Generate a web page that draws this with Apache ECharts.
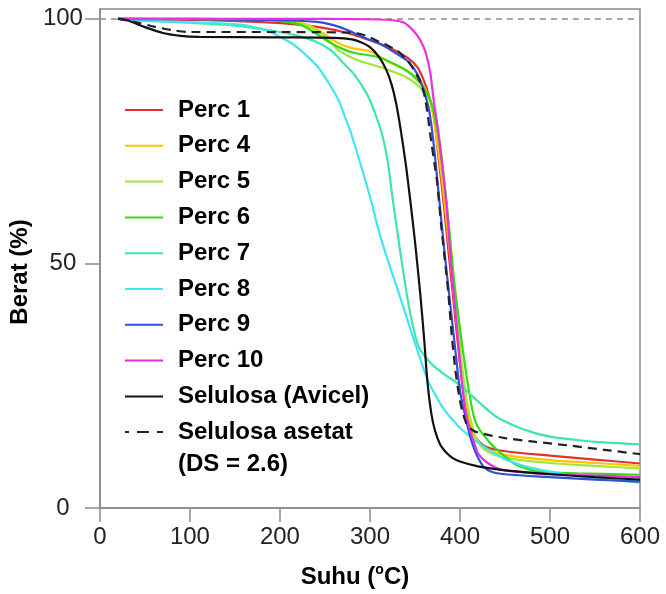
<!DOCTYPE html>
<html>
<head>
<meta charset="utf-8">
<script src="https://cdn.jsdelivr.net/npm/echarts@6/dist/echarts.min.js"></script>
<style>
  html, body { margin: 0; padding: 0; background: #ffffff; }
  #chart { width: 666px; height: 594px; }
</style>
</head>
<body>
<div id="chart"></div>
<script>
// Thermogravimetric curves: residual weight (%) against temperature (°C)
const FONT = '"Liberation Sans", Arial, Helvetica, sans-serif';

const xTickValues = [0, 100, 200, 300, 400, 500, 600];
const yTickValues = [0, 50, 100];

const seriesNames = [
  'Perc 1', 'Perc 4', 'Perc 5', 'Perc 6', 'Perc 7', 'Perc 8',
  'Perc 9', 'Perc 10', 'Selulosa (Avicel)', 'Selulosa asetat (DS = 2.6)'
];
const seriesColors = [
  '#e2302c', '#ffc400', '#a6e634', '#35dc12', '#3ee6ad', '#42e6ee',
  '#2f4fd6', '#e830e0', '#111111', '#222222'
];

// [temperature, weight %]
const perc1 = [[20,100],[60,99.9],[120,99.7],[180,99.3],[220,98.8],[250,98.1],[275,97.1],[300,95.6],[323,94],[342,92],[353,90],[360,87.3],[366,84],[371,80],[376,72],[382,62],[388,51],[393,42],[398,33],[403,25],[408,19.5],[413,16],[420,13.8],[430,12.4],[450,11.6],[500,10.7],[550,9.9],[600,9.1]];
const perc4 = [[20,100],[100,100],[200,99.7],[230,98.8],[250,96.8],[265,95],[280,94],[300,93.3],[323,91],[342,89.3],[357,87],[367,83],[373,77],[380,67],[386,57],[392,46],[398,35],[403,27],[408,20.5],[413,16.5],[420,13.6],[430,12],[450,10.8],[500,9.8],[550,9.2],[600,8.6]];
const perc5 = [[20,100],[100,100],[200,99.6],[230,98.5],[246,97],[255,95.5],[264,93.7],[277,92.3],[290,91.3],[305,90.5],[320,89.6],[342,87.9],[360,85.1],[371,81.4],[377,76],[383,66],[389,55],[394,45],[399,35],[404,26.5],[409,20.5],[414,16.5],[420,13.5],[430,11.6],[450,10.3],[500,9.2],[550,8.6],[600,8.1]];
const perc6 = [[20,100],[100,100],[180,99.8],[210,99.3],[225,98.6],[240,97],[257,95],[270,93.8],[283,93],[300,92.5],[312,92],[330,90.5],[342,89.2],[356,86.8],[367,83.4],[375,77],[381,69],[387,59],[392,49],[397,41],[403,32.5],[409,25],[415,19],[420,16.5],[434,13.2],[447,11],[460,9.1],[475,8],[490,7.4],[530,7.1],[600,6.8]];
const perc7 = [[20,100],[40,99.7],[100,99.2],[150,98.6],[190,97.6],[220,96.5],[240,95.3],[257,93.5],[270,91],[283,88.5],[297,84.5],[306,80.5],[314,76],[320,70.5],[325,63.5],[330,57],[336,49.5],[342,42.5],[348,37],[354,33],[362,30.8],[371,29],[385,27],[397,25.5],[410,23.5],[420,21.8],[440,18.7],[463,16.6],[480,15.5],[500,14.6],[530,13.9],[560,13.4],[600,13]];
const perc8 = [[20,100],[40,99.6],[110,99.2],[157,98.8],[185,97.6],[203,96],[213,95],[224,93.4],[242,90.2],[257,86],[266,83],[272,80],[279,76.6],[290,70],[301,63],[310,56.5],[321,50],[332,44],[345,36.5],[355,31],[364,26.2],[373,23],[382,20.2],[392,18],[401,16.2],[414,14.2],[427,12.5],[440,11],[452,9.8],[466,8.9],[482,8.1],[520,6.8],[560,5.9],[600,5.2]];
const perc9 = [[20,100],[100,99.9],[200,99.7],[238,99.4],[255,98.9],[268,98.2],[281,97.2],[294,96.1],[312,94.8],[331,92.7],[342,91.3],[353,88.6],[360,85.2],[366,81],[371,74],[377,63],[383,52],[389,42],[395,32],[400,24],[405,19.5],[410,15.5],[415,12.5],[420,10.3],[426,8.5],[435,7.4],[450,6.9],[500,6.3],[550,5.8],[600,5.4]];
const perc10 = [[20,100],[100,100],[200,100],[300,99.9],[325,99.7],[338,99.2],[348,97.6],[356,95.6],[362,93],[367,89],[371,83],[375,78],[379,72],[385,62],[390,50],[394,42],[398,34],[402,26],[406,20],[410,16.5],[415,13.8],[420,11.2],[430,9.3],[445,7.9],[470,7.3],[520,6.8],[560,6.6],[600,6.3]];
const avicel = [[20,100],[30,99.7],[50,98.3],[70,97.1],[90,96.5],[110,96.3],[200,96.2],[260,96.1],[280,95.8],[290,95.2],[300,94.2],[310,92.2],[318,89.6],[324,86.6],[329,82.8],[334,77.5],[340,70],[345,62.5],[350,54.5],[356,43.5],[360,35],[364,25.5],[368,19.5],[372,16],[378,13],[385,11.3],[392,10.2],[400,9.5],[420,8.5],[450,7.7],[500,6.9],[550,6.3],[600,5.8]];
const asetat = [[20,100],[40,99.3],[60,98.4],[80,97.7],[100,97.3],[200,97.3],[270,97.2],[287,97],[300,96.2],[309,95.4],[320,94.5],[331,93.4],[340,91.8],[345,90.7],[352,88.5],[357,86.6],[361,84],[364,80.5],[368,75],[372,70],[375,66],[379,58],[383,51],[387,44],[391,35],[395,28],[399,23],[403,19.5],[408,17],[415,15.8],[425,15.2],[450,14.3],[480,13.6],[520,12.8],[560,11.9],[600,11]];

const seriesData = [perc1, perc4, perc5, perc6, perc7, perc8, perc9, perc10, avicel, asetat];

const chart = echarts.init(document.getElementById('chart'), null, { renderer: 'canvas' });

const series = seriesData.map((data, i) => {
  const dashed = i === 9;
  const s = {
    name: seriesNames[i],
    type: 'line',
    data: data,
    symbol: 'none',
    showSymbol: false,
    smooth: 0.3,
    color: seriesColors[i],
    lineStyle: { width: 2.2, color: seriesColors[i], type: dashed ? [9, 6] : 'solid' },
    silent: true,
    animation: false,
    z: 2 + i
  };
  if (i === 0) {
    // reference level at 100 %
    s.markLine = {
      silent: true,
      symbol: ['none', 'none'],
      label: { show: false },
      lineStyle: { color: '#8a8a8a', type: [6, 5], width: 1.5 },
      data: [{ yAxis: 100 }]
    };
  }
  return s;
});

const legendText = {
  fontFamily: FONT,
  fontSize: 24,
  fontWeight: 'bold',
  color: '#000'
};
// legend shows only the line sample, no marker
const hiddenMarker = { color: 'rgba(0,0,0,0)', borderWidth: 0, opacity: 0 };

const option = {
  backgroundColor: '#ffffff',
  animation: false,
  grid: {
    left: 98, right: 26, top: 9, bottom: 86,
    show: true, borderColor: '#8a8a8a', borderWidth: 1.5, backgroundColor: 'transparent'
  },
  legend: [
    {
      orient: 'vertical',
      left: 124, top: 97,
      padding: 0,
      itemWidth: 38, itemHeight: 14, itemGap: 9.8,
      selectedMode: false,
      itemStyle: hiddenMarker,
      textStyle: Object.assign({ lineHeight: 26, padding: [0, 0, 0, 10] }, legendText),
      data: seriesNames.slice(0, 9)
    },
    {
      orient: 'vertical',
      left: 124, top: 384,
      padding: 0,
      itemWidth: 38, itemHeight: 14,
      selectedMode: false,
      itemStyle: hiddenMarker,
      // leading blank line keeps the first text line level with the sample
      formatter: () => '\nSelulosa asetat\n(DS = 2.6)',
      textStyle: Object.assign({ lineHeight: 32, padding: [0, 0, 0, 10] }, legendText),
      data: [{
        name: seriesNames[9],
        lineStyle: { type: [12, 8], dashOffset: 8, width: 2 }
      }]
    }
  ],
  xAxis: {
    type: 'value',
    min: 0, max: 600, interval: 100,
    name: '{n|Suhu (}{s|o}{n|C)}',
    nameLocation: 'middle',
    nameGap: 55,
    nameTextStyle: {
      padding: [0, 30, 0, 0],
      rich: {
        n: { fontFamily: FONT, fontSize: 24, fontWeight: 'bold', color: '#000', lineHeight: 28 },
        s: { fontFamily: FONT, fontSize: 14, fontWeight: 'bold', color: '#000', lineHeight: 14, verticalAlign: 'top' }
      }
    },
    axisLine: { show: true, lineStyle: { color: '#8a8a8a', width: 1.5 } },
    axisTick: { show: true, inside: false, length: 14, lineStyle: { color: '#8a8a8a', width: 1.5 }, customValues: xTickValues },
    axisLabel: { fontFamily: FONT, fontSize: 24, color: '#222', margin: 17, customValues: xTickValues },
    splitLine: { show: false }
  },
  yAxis: {
    type: 'value',
    min: 0, max: 102,
    name: 'Berat (%)',
    nameLocation: 'middle',
    nameGap: 62,
    nameTextStyle: { fontFamily: FONT, fontSize: 24, fontWeight: 'bold', color: '#000', padding: [0, 27, 0, 0] },
    axisLine: { show: true, lineStyle: { color: '#8a8a8a', width: 1.5 } },
    axisTick: { show: true, inside: false, length: 15, lineStyle: { color: '#8a8a8a', width: 1.5 }, customValues: yTickValues },
    axisLabel: { fontFamily: FONT, fontSize: 24, color: '#222', margin: 37, align: 'center', customValues: yTickValues },
    splitLine: { show: false }
  },
  series: series
};

chart.setOption(option);
</script>
</body>
</html>
